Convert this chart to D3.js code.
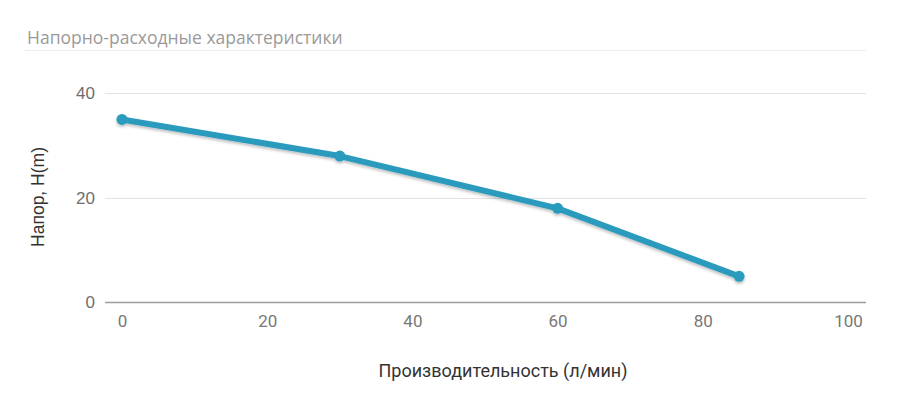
<!DOCTYPE html>
<html lang="ru">
<head>
<meta charset="UTF-8">
<title>Напорно-расходные характеристики</title>
<style>
    body { margin: 0; background: #fff; }
    .domain { display: none; }
</style>
<script src="https://d3js.org/d3.v7.min.js"></script>
</head>
<body>
<svg width="900" height="400"></svg>
<script>
    // data
    var flow = [0, 30, 60, 85];          // л/мин
    var head = [35, 28, 18, 5];          // m
    var xTicks = [0, 20, 40, 60, 80, 100];
    var yTicks = [0, 20, 40];

    var title = "Напорно-расходные характеристики",
        xTitle = "Производительность (л/мин)",
        yTitle = "Напор, H(m)";

    var svg = d3.select("svg");

    var plotLeft = 105, plotRight = 866;

    var x = d3.scaleLinear().domain([0, 100]).range([122, 848]);
    var y = d3.scaleLinear().domain([0, 40]).range([302.5, 93.3]);

    // title + rule
    svg.append("text")
        .attr("x", 27).attr("y", 44)
        .style("font-family", "'Open Sans', sans-serif")
        .style("font-size", "17.5px")
        .style("fill", "#9a9a9a")
        .text(title);
    svg.append("line")
        .attr("x1", 25).attr("x2", plotRight)
        .attr("y1", 50.5).attr("y2", 50.5)
        .style("stroke", "#ececec");

    // horizontal grid
    svg.append("g")
        .selectAll("line")
        .data(yTicks.filter(function(d) { return d > 0; }))
        .join("line")
        .attr("x1", plotLeft).attr("x2", plotRight)
        .attr("y1", function(d) { return Math.round(y(d)) + 0.5; })
        .attr("y2", function(d) { return Math.round(y(d)) + 0.5; })
        .style("stroke", "#e3e3e3");

    // y tick labels
    var yAxis = svg.append("g")
        .attr("transform", "translate(" + plotLeft + ",0)")
        .call(d3.axisLeft(y).tickValues(yTicks).tickSize(0).tickPadding(10));
    yAxis.selectAll("text")
        .style("font-family", "'Liberation Sans', Arial, sans-serif")
        .style("font-size", "17px")
        .style("fill", "#6e6e6e");

    // x axis baseline + labels
    svg.append("line")
        .attr("x1", plotLeft).attr("x2", plotRight)
        .attr("y1", y(0)).attr("y2", y(0))
        .style("stroke", "#9e9e9e")
        .style("stroke-width", 1.5);

    var xAxis = svg.append("g")
        .attr("transform", "translate(0," + y(0) + ")")
        .call(d3.axisBottom(x).tickValues(xTicks).tickSize(0).tickPadding(12));
    xAxis.selectAll("text")
        .style("font-family", "Roboto, sans-serif")
        .style("font-size", "17px")
        .style("fill", "#777");

    // axis titles
    svg.append("text")
        .attr("x", 503).attr("y", 377)
        .attr("text-anchor", "middle")
        .style("font-family", "Roboto, sans-serif")
        .style("font-size", "18px")
        .style("fill", "#333")
        .text(xTitle);

    svg.append("text")
        .attr("transform", "translate(44,197) rotate(-90)")
        .attr("text-anchor", "middle")
        .style("font-family", "'Liberation Sans', Arial, sans-serif")
        .style("font-size", "17.5px")
        .style("fill", "#333")
        .text(yTitle);

    // soft shadow under the curve
    var defs = svg.append("defs");
    var f = defs.append("filter").attr("id", "shadow")
        .attr("x", "-5%").attr("y", "-20%").attr("width", "110%").attr("height", "140%");
    f.append("feDropShadow")
        .attr("dx", 0).attr("dy", 2).attr("stdDeviation", 1.5)
        .attr("flood-color", "#000").attr("flood-opacity", 0.25);

    var pts = flow.map(function(d, i) { return { q: d, h: head[i] }; });

    var line = d3.line()
        .x(function(d) { return x(d.q); })
        .y(function(d) { return y(d.h); });

    var series = svg.append("g").attr("filter", "url(#shadow)");

    series.append("path")
        .datum(pts)
        .attr("d", line)
        .style("fill", "none")
        .style("stroke", "#2a9bbd")
        .style("stroke-width", 6)
        .style("stroke-linejoin", "round");

    series.selectAll("circle")
        .data(pts)
        .join("circle")
        .attr("cx", function(d) { return x(d.q); })
        .attr("cy", function(d) { return y(d.h); })
        .attr("r", 5.5)
        .style("fill", "#2a9bbd");
</script>
</body>
</html>
